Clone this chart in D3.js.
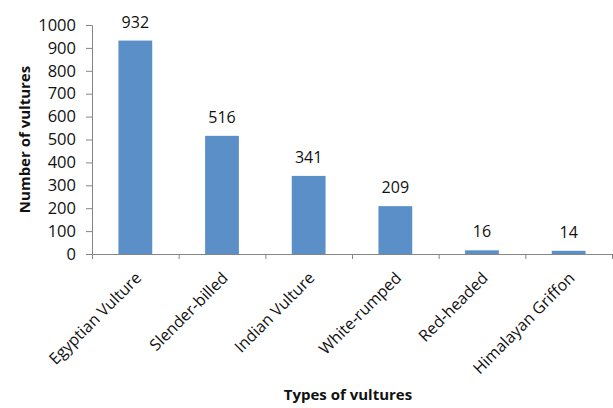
<!DOCTYPE html>
<html>
<head>
<meta charset="utf-8">
<script src="https://cdn.jsdelivr.net/npm/d3@7"></script>
<style>
  body { margin: 0; background: #fff; }
  svg text { font-family: "Open Sans", sans-serif; fill: #111; }
</style>
</head>
<body>
<div id="chart"></div>
<script>
var categories = ["Egyptian Vulture", "Slender-billed", "Indian Vulture", "White-rumped", "Red-headed", "Himalayan Griffon"];
var counts = [932, 516, 341, 209, 16, 14];
var yTicks = [0, 100, 200, 300, 400, 500, 600, 700, 800, 900, 1000];

var W = 613, H = 408;
var margin = {top: 25, left: 92, right: 1, bottom: 154};
var width = W - margin.left - margin.right;
var height = H - margin.top - margin.bottom;

var svg = d3.select("#chart")
    .append("svg")
    .attr("width", W)
    .attr("height", H)
    .append("g")
    .attr("transform", "translate(" + margin.left + "," + margin.top + ")");

var x = d3.scaleBand()
    .domain(categories)
    .range([0, width])
    .paddingInner(0.61)
    .paddingOuter(0.305);

var y = d3.scaleLinear()
    .domain([0, 1000])
    .range([height, 0]);

// Y axis
var yAxis = svg.append("g")
    .call(d3.axisLeft(y).tickValues(yTicks).tickFormat(d3.format("d")).tickSize(6).tickPadding(10));
yAxis.selectAll("path, line").attr("stroke", "#868686");
yAxis.selectAll("text").style("font-size", "16.5px");

// bars
svg.selectAll("rect.bar")
    .data(counts)
    .enter()
    .append("rect")
    .attr("class", "bar")
    .attr("x", function(d, i) { return x(categories[i]); })
    .attr("y", function(d) { return y(d); })
    .attr("width", x.bandwidth())
    .attr("height", function(d) { return height - y(d); })
    .style("fill", "#5b8fc7");

// value labels
svg.selectAll("text.val")
    .data(counts)
    .enter()
    .append("text")
    .attr("class", "val")
    .attr("x", function(d, i) { return x(categories[i]) + x.bandwidth() / 2; })
    .attr("y", function(d) { return y(d) - 13; })
    .attr("text-anchor", "middle")
    .style("font-size", "16px")
    .text(function(d) { return d; });

// X axis line + ticks at category boundaries
var bounds = d3.range(categories.length + 1).map(function(i) { return i * x.step(); });
var xb = d3.scaleLinear().domain([0, width]).range([0, width]);
var xAxis = svg.append("g")
    .attr("transform", "translate(0," + height + ")")
    .call(d3.axisBottom(xb).tickValues(bounds).tickSize(5).tickFormat(function() { return ""; }));
xAxis.selectAll("path, line").attr("stroke", "#868686");

// category labels
svg.append("g")
    .selectAll("text")
    .data(categories)
    .enter()
    .append("text")
    .attr("text-anchor", "end")
    .attr("transform", function(d) {
        return "translate(" + (x(d) + x.bandwidth() / 2 + 7) + "," + (height + 25) + ") rotate(-45)";
    })
    .style("font-size", "16px")
    .text(function(d) { return d; });

// axis titles
svg.append("text")
    .attr("x", width / 2 - 4)
    .attr("y", height + 146)
    .attr("text-anchor", "middle")
    .style("font-size", "15px")
    .style("font-weight", "bold")
    .text("Types of vultures");

svg.append("text")
    .attr("transform", "translate(" + (-margin.left + 30) + "," + (height / 2) + ") rotate(-90)")
    .attr("text-anchor", "middle")
    .style("font-size", "15px")
    .style("font-weight", "bold")
    .text("Number of vultures");
</script>
</body>
</html>
